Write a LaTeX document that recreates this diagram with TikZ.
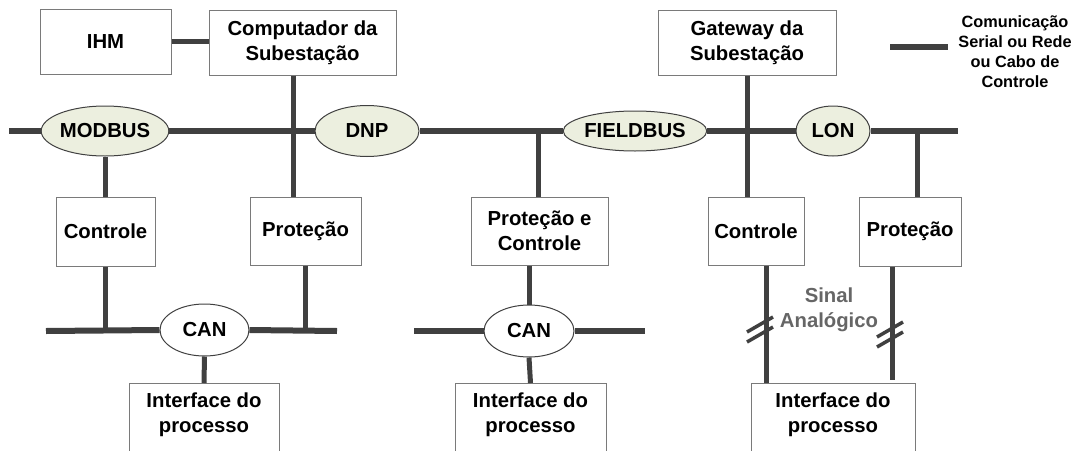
\documentclass[tikz,border=0pt]{standalone}
\usepackage{fontspec}
\setmainfont{Liberation Sans}
\usetikzlibrary{calc,shapes.geometric}

\definecolor{wire}{HTML}{404040}
\definecolor{boxline}{HTML}{7A7A7A}
\definecolor{busfill}{HTML}{ECEFDF}
\definecolor{analog}{HTML}{666666}

\tikzset{
  lbl/.style={font=\fontsize{20.3}{24.5}\selectfont\bfseries, align=center},
  unit/.style={draw=boxline, line width=1pt, fill=white, inner sep=0pt, lbl},
  bus/.style={ellipse, draw=wire, line width=1pt, fill=busfill, inner sep=0pt, lbl},
  canbus/.style={ellipse, draw=wire, line width=1pt, fill=white, inner sep=0pt, lbl},
  cable/.style={draw=wire, line width=5pt},
  trunk/.style={draw=wire, line width=6pt},
  tick/.style={draw=wire, line width=3.5pt},
}

\begin{document}
\begin{tikzpicture}[x=1pt, y=-1pt]
\useasboundingbox (0,0) rectangle (1076,450);
\clip (0,0) rectangle (1076,450);

% top level equipment
\node[unit, minimum width=131, minimum height=65] (ihm) at (105.5,41.5) {IHM};
\node[unit, minimum width=187, minimum height=65] (comp) at (302.5,42.5) {Computador da\\Subestação};
\node[unit, minimum width=178, minimum height=65] (gw) at (747,42.5) {Gateway da\\Subestação};

% station bus protocols
\node[bus, minimum width=121, minimum height=50] (modbus) at (105,131) {MODBUS};
\node[bus, minimum width=104, minimum height=51] (dnp) at (367,131) {DNP};
\node[bus, minimum width=132, minimum height=40] (fieldbus) at (635,131) {FIELDBUS};
\node[bus, minimum width=74, minimum height=50] (lon) at (833,131) {LON};

% bay level devices
\node[unit, minimum width=99, minimum height=69] (ctl1) at (105.5,231.5) {Controle};
\node[unit, minimum width=111, minimum height=68] (prot1) at (305.5,231) {Proteção};
\node[unit, minimum width=137, minimum height=68] (pc) at (539.5,231) {Proteção e\\Controle};
\node[unit, minimum width=96, minimum height=68] (ctl2) at (756,231) {Controle};
\node[unit, minimum width=102, minimum height=69] (prot2) at (910,231.5) {Proteção};

% field buses
\node[canbus, minimum width=89, minimum height=52] (can1) at (204.5,330) {CAN};
\node[canbus, minimum width=90, minimum height=52] (can2) at (529,331) {CAN};

% process interfaces (running off the lower edge)
\node[draw=boxline, line width=1pt, fill=white, minimum width=150, minimum height=80, anchor=north] (if1box) at (204,383) {};
\node[lbl] (if1) at (204,414.5) {Interface do\\processo};
\node[draw=boxline, line width=1pt, fill=white, minimum width=151, minimum height=80, anchor=north] (if2box) at (530.5,383) {};
\node[lbl] (if2) at (530.5,414.5) {Interface do\\processo};
\node[draw=boxline, line width=1pt, fill=white, minimum width=164, minimum height=80, anchor=north] (if3box) at (833,383) {};
\node[lbl] (if3) at (833,414.5) {Interface do\\processo};

% bus end points and taps
\coordinate (busL) at (9,131);
\coordinate (busR) at (958,131);
\coordinate (tapPC) at (538,131);
\coordinate (tapP2) at (917,131);
\coordinate (canAL) at (46,331);
\coordinate (canAR) at (337,331);
\coordinate (canBL) at (414,331);
\coordinate (canBR) at (645,331);

% station bus
\draw[trunk] (busL) -- (modbus.west);
\draw[trunk] (modbus.east) -- (dnp.west);
\draw[trunk] (dnp.east) -- (fieldbus.west);
\draw[trunk] (fieldbus.east) -- (lon.west);
\draw[trunk] (lon.east) -- (busR);

% connections to the station bus
\draw[cable] (ihm.east) -- (ihm.east -| comp.west);
\draw[cable] ($(comp.south)+(-9.5,0)$) coordinate (cdrop) -- (cdrop |- prot1.north);
\draw[cable] (modbus.south) -- (modbus.south |- ctl1.north);
\draw[cable] (gw.south) -- (gw.south |- ctl2.north);
\draw[cable] (tapPC) -- (tapPC |- pc.north);
\draw[cable] (tapP2) -- (tapP2 |- prot2.north);

% first CAN segment
\draw[trunk] (canAL) -- (can1.west);
\draw[trunk] (can1.east) -- (canAR);
\draw[cable] (ctl1.south) -- (ctl1.south |- canAL);
\draw[cable] (prot1.south) -- (prot1.south |- canAR);
\draw[cable] (can1.south) -- (if1box.north);

% second CAN segment
\draw[trunk] (canBL) -- (can2.west);
\draw[trunk] (can2.east) -- (canBR);
\draw[cable] ($(pc.south)+(-10.5,0)$) coordinate (pdrop) -- (can2.north);
\draw[cable] (can2.south) -- (if2box.north);

% analogue wiring
\draw[cable] ($(ctl2.south)+(10,0)$) coordinate (adrop1) -- (adrop1 |- if3box.north);
\draw[cable] ($(prot2.south)+(-18,0)$) coordinate (adrop2) -- ($(adrop2 |- if3box.north)+(0,-3)$);
\draw[tick] (747,332) -- (773,317);
\draw[tick] (747,342) -- (773,327);
\draw[tick] (877,337) -- (903,322);
\draw[tick] (877,347) -- (903,332);
\node[lbl, text=analog] (sinal) at (829,310) {Sinal\\Analógico};

% legend
\coordinate (lg1) at (890,47);
\coordinate (lg2) at (948,47);
\draw[trunk] (lg1) -- (lg2);
\node[font=\fontsize{16.3}{20}\selectfont\bfseries, align=center] (legtext) at (1015,52) {Comunicação\\Serial ou Rede\\ou Cabo de\\Controle};
\end{tikzpicture}
\end{document}
